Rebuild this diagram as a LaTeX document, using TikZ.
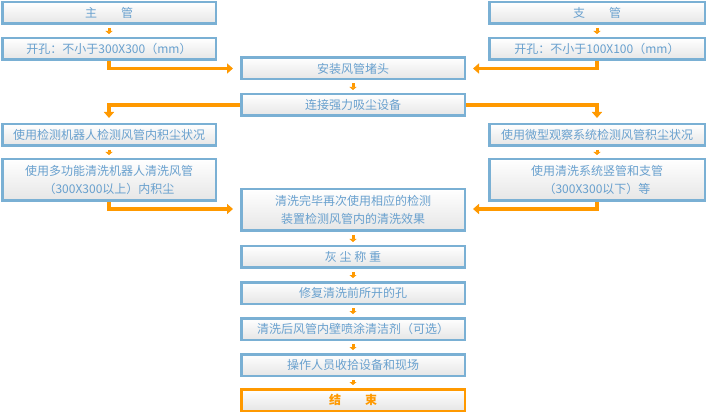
\documentclass[tikz,border=0pt]{standalone}
\usepackage{fontspec}
\setmainfont{Noto Sans CJK SC}
\usetikzlibrary{arrows.meta}
\definecolor{bd}{RGB}{122,176,212}
\definecolor{tx}{RGB}{104,160,206}
\definecolor{og}{RGB}{255,153,0}
\begin{document}
\begin{tikzpicture}[x=1pt,y=-1pt,
 box/.style={draw=bd, line width=2.5pt, top color=white, middle color=white, bottom color=black!10, text=tx, font=\fontsize{12}{18}\selectfont, align=center, inner sep=0pt, minimum height=21.5pt},
 lbox/.style={box, minimum width=213.5pt},
 rbox/.style={box, minimum width=215.5pt},
 cbox/.style={box, minimum width=223.5pt},
 tall/.style={minimum height=41.5pt},
 elbow/.style={draw=og, line width=3.5pt, -{Triangle[width=10pt,length=6pt]}, shorten >=7pt},
 short/.style={draw=og, line width=3pt, -{Triangle[width=7pt,length=3pt]}, shorten <=3pt, shorten >=3pt}
]
\useasboundingbox (0,0) rectangle (707,414);
% left column
\node[lbox] (zg) at (109,13) {主　　管};
\node[lbox] (kk1) at (109,49) {开孔：不小于300X300（mm）};
\node[lbox] (jc1) at (109,135) {使用检测机器人检测风管内积尘状况};
\node[lbox,tall] (dg) at (109,180) {使用多功能清洗机器人清洗风管\\（300X300以上）内积尘};
% right column
\node[rbox] (zhg) at (597,13) {支　　管};
\node[rbox] (kk2) at (597,49) {开孔：不小于100X100（mm）};
\node[rbox] (wx) at (597,135) {使用微型观察系统检测风管积尘状况};
\node[rbox,tall] (xt) at (597,180) {使用清洗系统竖管和支管\\（300X300以下）等};
% center column
\node[cbox] (az) at (353,68.5) {安装风管堵头};
\node[cbox] (lj) at (353,105) {连接强力吸尘设备};
\node[cbox,tall] (qx) at (353,210) {清洗完毕再次使用相应的检测\\装置检测风管内的清洗效果};
\node[cbox] (hc) at (353,257) {灰 尘 称 重};
\node[cbox] (xf) at (353,293) {修复清洗前所开的孔};
\node[cbox] (qh) at (353,329) {清洗后风管内壁喷涂清洁剂（可选）};
\node[cbox] (cz) at (353,365) {操作人员收拾设备和现场};
\node[cbox, draw=og, text=og, font=\fontsize{12}{18}\selectfont\bfseries] (js) at (353,400) {结　　束};
% connectors
\draw[short] (zg.south) -- (kk1.north);
\draw[short] (zhg.south) -- (kk2.north);
\draw[short] (az.south) -- (lj.north);
\draw[short] (qx.south) -- (hc.north);
\draw[short] (hc.south) -- (xf.north);
\draw[short] (xf.south) -- (qh.north);
\draw[short] (qh.south) -- (cz.north);
\draw[short] (cz.south) -- (js.north);
\draw[short] (jc1.south) -- (dg.north);
\draw[short] (wx.south) -- (xt.north);
\draw[elbow] (kk1.south) |- (az.west);
\draw[elbow] (kk2.south) |- (az.east);
\draw[elbow, shorten >=5pt] (lj.west) -| (jc1.north);
\draw[elbow, shorten >=5pt] (lj.east) -| (wx.north);
\draw[elbow] (dg.south) |- ([yshift=1pt]qx.west);
\draw[elbow] (xt.south) |- ([yshift=1pt]qx.east);
\end{tikzpicture}
\end{document}
